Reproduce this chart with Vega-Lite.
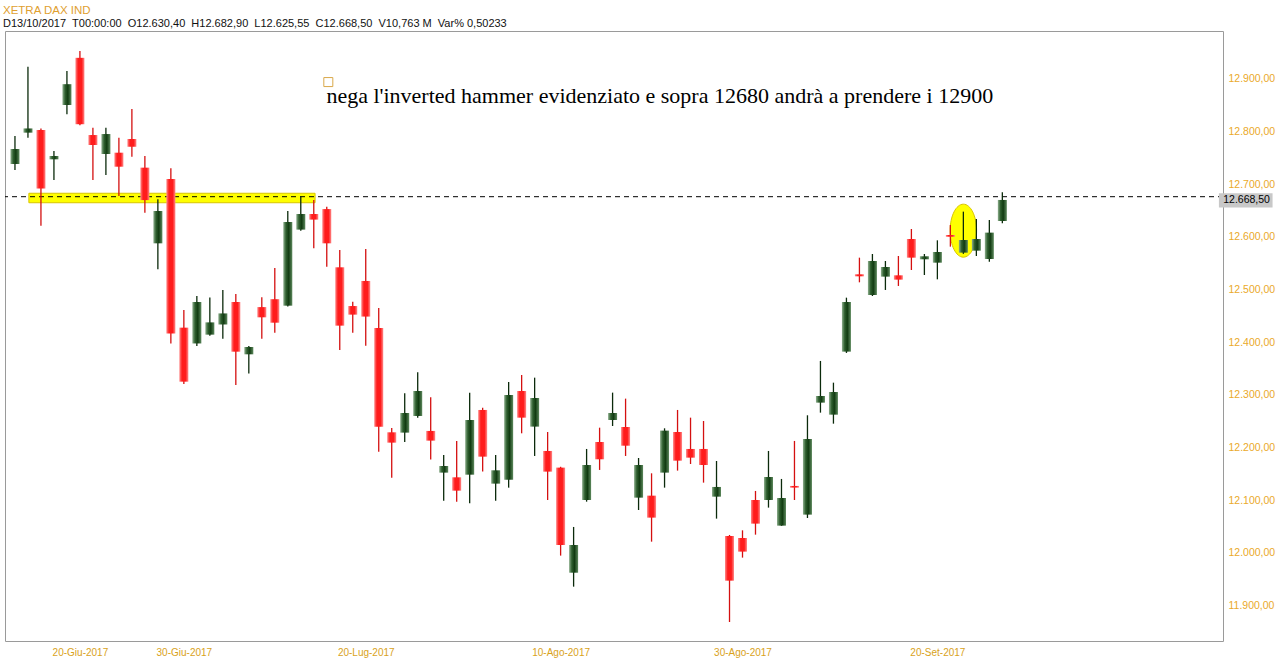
{
  "$schema": "https://vega.github.io/schema/vega-lite/v6.json",
  "autosize": "none",
  "padding": {"left": 5, "top": 31, "right": 55, "bottom": 28},
  "width": 1218,
  "height": 610,
  "background": "white",
  "config": {
    "view": {"stroke": "#9a9a9a", "strokeWidth": 1},
    "font": "Liberation Sans"
  },
  "title": {
    "text": "XETRA DAX IND",
    "subtitle": "D13/10/2017\u00a0\u00a0T00:00:00\u00a0\u00a0O12.630,40\u00a0\u00a0H12.682,90\u00a0\u00a0L12.625,55\u00a0\u00a0C12.668,50\u00a0\u00a0V10,763 M\u00a0\u00a0Var% 0,50233",
    "anchor": "start",
    "frame": "group",
    "dx": -2,
    "offset": 2,
    "font": "Liberation Sans",
    "fontSize": 11.5,
    "fontWeight": "normal",
    "color": "#e0a030",
    "subtitleFont": "Liberation Sans",
    "subtitleFontSize": 11,
    "subtitleColor": "#111111",
    "subtitlePadding": 2
  },
  "datasets": {
    "ohlc": [
      {"i": 0, "o": 12730.5, "h": 12783.6, "l": 12719, "c": 12759},
      {"i": 1, "o": 12790, "h": 12915, "l": 12780.5, "c": 12798},
      {"i": 2, "o": 12795, "h": 12798, "l": 12613.5, "c": 12684},
      {"i": 3, "o": 12739.4, "h": 12755, "l": 12700, "c": 12745.7},
      {"i": 4, "o": 12842.5, "h": 12907, "l": 12825, "c": 12882},
      {"i": 5, "o": 12932, "h": 12945, "l": 12804, "c": 12806},
      {"i": 6, "o": 12785.5, "h": 12799.5, "l": 12700, "c": 12766.6},
      {"i": 7, "o": 12749.5, "h": 12799.5, "l": 12709.6, "c": 12787.4},
      {"i": 8, "o": 12752, "h": 12780.5, "l": 12669.8, "c": 12725.4},
      {"i": 9, "o": 12778, "h": 12835, "l": 12744.4, "c": 12763.4},
      {"i": 10, "o": 12723.6, "h": 12745.7, "l": 12638, "c": 12662},
      {"i": 11, "o": 12580, "h": 12663.5, "l": 12530.6, "c": 12641.3},
      {"i": 12, "o": 12702, "h": 12722.3, "l": 12390, "c": 12409},
      {"i": 13, "o": 12420, "h": 12453.5, "l": 12313, "c": 12317.5},
      {"i": 14, "o": 12390, "h": 12480, "l": 12385, "c": 12468.7},
      {"i": 15, "o": 12406.7, "h": 12477, "l": 12404.8, "c": 12430},
      {"i": 16, "o": 12426, "h": 12491.4, "l": 12399, "c": 12447},
      {"i": 17, "o": 12468.7, "h": 12484, "l": 12311, "c": 12374.4},
      {"i": 18, "o": 12369.4, "h": 12385, "l": 12333, "c": 12383.3},
      {"i": 19, "o": 12459, "h": 12477.5, "l": 12399, "c": 12439.6},
      {"i": 20, "o": 12474, "h": 12533, "l": 12410.5, "c": 12429.4},
      {"i": 21, "o": 12461.7, "h": 12641.3, "l": 12460, "c": 12620.5},
      {"i": 22, "o": 12606, "h": 12669.8, "l": 12604, "c": 12635.6},
      {"i": 23, "o": 12635.6, "h": 12662, "l": 12570.5, "c": 12625},
      {"i": 24, "o": 12645, "h": 12649.5, "l": 12535.7, "c": 12580},
      {"i": 25, "o": 12534.5, "h": 12567.4, "l": 12377.6, "c": 12423.8},
      {"i": 26, "o": 12461, "h": 12469.3, "l": 12410.5, "c": 12444.7},
      {"i": 27, "o": 12508.6, "h": 12569.3, "l": 12385.8, "c": 12441},
      {"i": 28, "o": 12419.4, "h": 12457.3, "l": 12184.7, "c": 12232},
      {"i": 29, "o": 12221.4, "h": 12229.6, "l": 12135.4, "c": 12201.8},
      {"i": 30, "o": 12220.8, "h": 12295.4, "l": 12203, "c": 12258},
      {"i": 31, "o": 12252.4, "h": 12335.2, "l": 12249.2, "c": 12299.8},
      {"i": 32, "o": 12224, "h": 12287.8, "l": 12170, "c": 12205.6},
      {"i": 33, "o": 12144.9, "h": 12178.4, "l": 12091.7, "c": 12157.5},
      {"i": 34, "o": 12136, "h": 12205, "l": 12089.8, "c": 12110.7},
      {"i": 35, "o": 12141, "h": 12296.7, "l": 12086.7, "c": 12244.8},
      {"i": 36, "o": 12263.8, "h": 12268.2, "l": 12146.8, "c": 12175.2},
      {"i": 37, "o": 12124, "h": 12178.4, "l": 12091.7, "c": 12149.3},
      {"i": 38, "o": 12131.6, "h": 12316.9, "l": 12116.4, "c": 12292.2},
      {"i": 39, "o": 12299.8, "h": 12330.2, "l": 12219.5, "c": 12249.2},
      {"i": 40, "o": 12232.2, "h": 12325.1, "l": 12176.5, "c": 12286.5},
      {"i": 41, "o": 12186, "h": 12222, "l": 12093, "c": 12146.8},
      {"i": 42, "o": 12154.4, "h": 12156, "l": 11987.4, "c": 12007.6},
      {"i": 43, "o": 11955, "h": 12041.8, "l": 11928.5, "c": 12007.6},
      {"i": 44, "o": 12093, "h": 12189.8, "l": 12089.8, "c": 12159.4},
      {"i": 45, "o": 12203, "h": 12230.2, "l": 12150, "c": 12170.2},
      {"i": 46, "o": 12244.8, "h": 12296.7, "l": 12233.4, "c": 12258},
      {"i": 47, "o": 12231.5, "h": 12285.3, "l": 12176.5, "c": 12196},
      {"i": 48, "o": 12097.4, "h": 12172.7, "l": 12074, "c": 12159.4},
      {"i": 49, "o": 12101.2, "h": 12143.6, "l": 12013.9, "c": 12059.5},
      {"i": 50, "o": 12144.9, "h": 12229, "l": 12116.4, "c": 12224.6},
      {"i": 51, "o": 12222, "h": 12263.8, "l": 12148.7, "c": 12167.6},
      {"i": 52, "o": 12189.8, "h": 12249.2, "l": 12161.3, "c": 12173.3},
      {"i": 53, "o": 12189.8, "h": 12242.9, "l": 12125.9, "c": 12159.4},
      {"i": 54, "o": 12099.3, "h": 12167, "l": 12057.6, "c": 12117.7},
      {"i": 55, "o": 12024.7, "h": 12026.6, "l": 11861.5, "c": 11939.9},
      {"i": 56, "o": 12020.9, "h": 12035.4, "l": 11983.6, "c": 11995},
      {"i": 57, "o": 12093, "h": 12110.1, "l": 12027.2, "c": 12048.1},
      {"i": 58, "o": 12093, "h": 12186, "l": 12078.5, "c": 12136.6},
      {"i": 59, "o": 12044.3, "h": 12132.9, "l": 12044, "c": 12096.8},
      {"i": 60, "o": 12119.6, "h": 12205, "l": 12093, "c": 12116.5},
      {"i": 61, "o": 12065.2, "h": 12253.7, "l": 12058.8, "c": 12208.7},
      {"i": 62, "o": 12277.7, "h": 12356.8, "l": 12258.7, "c": 12290.3},
      {"i": 63, "o": 12254.9, "h": 12315.6, "l": 12237.8, "c": 12297.9},
      {"i": 64, "o": 12374.5, "h": 12476.9, "l": 12372, "c": 12468.7},
      {"i": 65, "o": 12521.2, "h": 12552.8, "l": 12506, "c": 12517.4},
      {"i": 66, "o": 12482, "h": 12559.8, "l": 12480, "c": 12546.5},
      {"i": 67, "o": 12516.8, "h": 12546.5, "l": 12491.5, "c": 12535.1},
      {"i": 68, "o": 12519.3, "h": 12556, "l": 12499.1, "c": 12511.1},
      {"i": 69, "o": 12588.2, "h": 12607.2, "l": 12529.4, "c": 12552.8},
      {"i": 70, "o": 12549.7, "h": 12559.8, "l": 12519.9, "c": 12555.4},
      {"i": 71, "o": 12543.3, "h": 12585.7, "l": 12511.7, "c": 12563.6},
      {"i": 72, "o": 12595.8, "h": 12614.8, "l": 12573.7, "c": 12592.5},
      {"i": 73, "o": 12562.3, "h": 12640.1, "l": 12560, "c": 12586.3},
      {"i": 74, "o": 12566.1, "h": 12626.2, "l": 12556, "c": 12588.2},
      {"i": 75, "o": 12550.3, "h": 12624.3, "l": 12545.2, "c": 12600.3},
      {"i": 76, "o": 12622.4, "h": 12676.8, "l": 12618, "c": 12662.3}
    ]
  },
  "layer": [
    {
      "data": {"values": [{}]},
      "mark": {"type": "rect", "fill": "#ffff00", "stroke": "#d8c400", "strokeWidth": 1},
      "encoding": {
        "x": {
          "datum": 1.07, "type": "quantitative",
          "scale": {"domain": [-0.382, 92.6], "nice": false, "zero": false},
          "axis": {
            "values": [5, 13, 27, 42, 56, 71],
            "labelExpr": "datum.value == 5 ? '20-Giu-2017' : datum.value == 13 ? '30-Giu-2017' : datum.value == 27 ? '20-Lug-2017' : datum.value == 42 ? '10-Ago-2017' : datum.value == 56 ? '30-Ago-2017' : '20-Set-2017'",
            "title": null, "grid": false, "ticks": false, "domain": false,
            "labelFont": "Liberation Sans", "labelFontSize": 10, "labelColor": "#d9a21a",
            "labelPadding": 6
          }
        },
        "x2": {"datum": 23.1},
        "y": {
          "datum": 12675, "type": "quantitative",
          "scale": {"domain": [11825.4, 12982.9], "nice": false, "zero": false},
          "axis": {
            "orient": "right",
            "values": [11900, 12000, 12100, 12200, 12300, 12400, 12500, 12600, 12700, 12800, 12900],
            "labelExpr": "replace(replace(replace(format(datum.value, ',.2f'), ',', '#'), '.', ','), '#', '.')",
            "title": null, "grid": false, "ticks": false, "domain": false,
            "labelFont": "Liberation Sans", "labelFontSize": 10.5, "labelColor": "#eaa92a",
            "labelAlign": "left", "labelPadding": 5, "labelOffset": 4
          }
        },
        "y2": {"datum": 12657}
      }
    },
    {
      "data": {"values": [{}]},
      "mark": {"type": "point", "shape": "M -0.5 0 A 0.5 1 0 1 0 0.5 0 A 0.5 1 0 1 0 -0.5 0 Z", "size": 2809, "filled": true, "fill": "#ffff00", "stroke": "#d8c400", "strokeWidth": 1, "opacity": 1},
      "encoding": {
        "x": {"datum": 73.0, "type": "quantitative"},
        "y": {"datum": 12604, "type": "quantitative"}
      }
    },
    {
      "data": {"values": [{}]},
      "mark": {"type": "rule", "color": "#000000", "strokeWidth": 1, "strokeDash": [5, 4]},
      "encoding": {
        "y": {"datum": 12668.5, "type": "quantitative"}
      }
    },
    {
      "data": {"name": "ohlc"},
      "mark": {"type": "rule", "strokeWidth": 1.3},
      "encoding": {
        "x": {"field": "i", "type": "quantitative"},
        "y": {"field": "l", "type": "quantitative"},
        "y2": {"field": "h"},
        "color": {"condition": {"test": "datum.c >= datum.o", "value": "#0b2a0b"}, "value": "#d41010"}
      }
    },
    {
      "data": {"name": "ohlc"},
      "transform": [{"filter": "datum.c >= datum.o"}],
      "mark": {
        "type": "bar", "size": 9,
        "fill": {"gradient": "linear", "x1": 0, "x2": 1, "y1": 0, "y2": 0,
                 "stops": [{"offset": 0, "color": "#8fb08f"}, {"offset": 0.3, "color": "#2f5f2f"}, {"offset": 0.6, "color": "#113b11"}, {"offset": 1, "color": "#5e8a5e"}]}
      },
      "encoding": {
        "x": {"field": "i", "type": "quantitative"},
        "y": {"field": "o", "type": "quantitative"},
        "y2": {"field": "c"}
      }
    },
    {
      "data": {"name": "ohlc"},
      "transform": [{"filter": "datum.c < datum.o"}],
      "mark": {
        "type": "bar", "size": 9,
        "fill": {"gradient": "linear", "x1": 0, "x2": 1, "y1": 0, "y2": 0,
                 "stops": [{"offset": 0, "color": "#ff8a8a"}, {"offset": 0.3, "color": "#ff1c1c"}, {"offset": 0.7, "color": "#ff1c1c"}, {"offset": 1, "color": "#ff8a8a"}]}
      },
      "encoding": {
        "x": {"field": "i", "type": "quantitative"},
        "y": {"field": "o", "type": "quantitative"},
        "y2": {"field": "c"}
      }
    },
    {
      "data": {"values": [{}]},
      "mark": {"type": "point", "shape": "square", "size": 81, "filled": false, "stroke": "#d9a84a", "strokeWidth": 1, "opacity": 1},
      "encoding": {
        "x": {"datum": 24.12, "type": "quantitative"},
        "y": {"datum": 12886, "type": "quantitative"}
      }
    },
    {
      "data": {"values": [{}]},
      "mark": {"type": "text", "text": "nega l'inverted hammer evidenziato e sopra 12680 andrà a prendere i 12900", "font": "Liberation Serif", "fontSize": 22, "fontWeight": "normal", "align": "left", "baseline": "alphabetic", "color": "#000000"},
      "encoding": {
        "x": {"datum": 23.97, "type": "quantitative"},
        "y": {"datum": 12846, "type": "quantitative"}
      }
    },
    {
      "data": {"values": [{}]},
      "mark": {"type": "rect", "fill": "#c8c8c8", "clip": false},
      "encoding": {
        "x": {"datum": 92.67, "type": "quantitative"},
        "x2": {"datum": 96.8},
        "y": {"datum": 12675, "type": "quantitative"},
        "y2": {"datum": 12648}
      }
    },
    {
      "data": {"values": [{}]},
      "mark": {"type": "text", "text": "12.668,50", "font": "Liberation Sans", "fontSize": 10.5, "fontWeight": "normal", "align": "left", "baseline": "middle", "color": "#000000", "clip": false},
      "encoding": {
        "x": {"datum": 93.0, "type": "quantitative"},
        "y": {"datum": 12661.5, "type": "quantitative"}
      }
    }
  ]
}
